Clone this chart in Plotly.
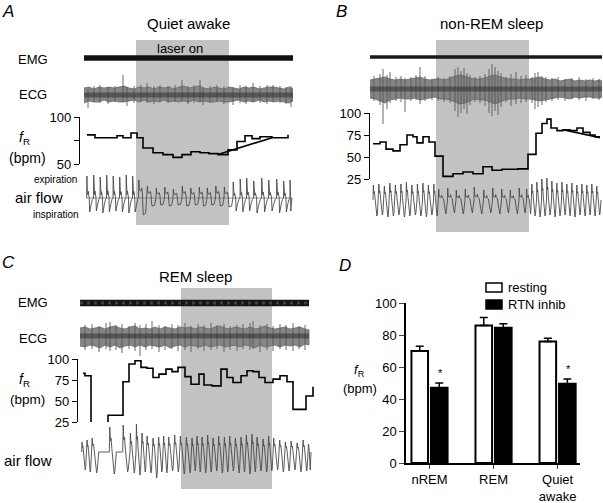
import plotly.graph_objects as go

W, H = 603, 503
FONT = "Liberation Sans, Arial, sans-serif"

# ---------------- data: panel A (quiet awake) ----------------
A_t_end = 209
A_laser = [52, 145]
A_fr_t = [3, 11, 33, 39, 47, 53, 59, 69, 79, 89, 98, 107, 116, 125, 134, 144, 153, 161, 168, 176, 188, 204]
A_fr_v = [81, 78, 80, 78, 83, 78, 67, 62, 60, 57, 60, 63, 62, 61, 60, 65, 74, 80, 77, 79, 78, 81]
A_fr_end = 204
A_fit_t = [134, 188]
A_fit_v = [60, 78]
A_ecg_t = [0, 5, 10, 15, 20, 25, 30, 35, 40, 45, 50, 55, 60, 65, 70, 75, 80, 85, 90, 95, 100,
           105, 110, 115, 120, 125, 130, 135, 140, 145, 150, 155, 160, 165, 170, 175, 180, 185,
           190, 195, 200, 205, 209]
A_ecg_up = [7, 8, 6, 8, 7, 8, 7, 8, 9, 7, 6, 8, 7, 8, 6, 8, 7, 8, 6, 8, 9, 7, 8, 9, 7, 6, 8, 7,
            6, 8, 7, 6, 8, 7, 8, 6, 7, 8, 8, 7, 6, 8, 6]
A_ecg_dn = [8, 6, 7, 7, 5, 7, 6, 7, 7, 6, 5, 7, 5, 7, 6, 7, 5, 7, 6, 7, 6, 7, 5, 7, 6, 7, 7, 6,
            7, 7, 6, 5, 7, 6, 7, 5, 7, 6, 7, 6, 7, 8, 6]
A_spk_t = [4, 10, 16, 24, 31, 39, 43, 50, 57, 63, 70, 76, 84, 91, 98, 104, 110, 116, 119, 126,
           133, 140, 149, 156, 162, 169, 176, 183, 189, 196, 202, 207]
A_spk_up = [6, 9, 10, 8, 9, 20, 8, 9, 10, 12, 9, 10, 9, 10, 15, 9, 10, 15, 7, 9, 10, 9, 8, 10,
            9, 12, 9, 10, 10, 9, 8, 9]
A_spk_dn = [13, 7, 8, 9, 7, 6, 11, 8, 7, 8, 9, 7, 8, 7, 6, 9, 8, 7, 10, 8, 7, 9, 10, 8, 9, 7,
            8, 9, 7, 8, 9, 12]
A_breath_t = [2.7, 9.5, 16, 22.5, 29, 35.5, 42, 48.5,
              54.5, 63, 72, 80.5, 89, 98, 106.5, 115, 123, 131.5, 140,
              149, 156, 162.5, 169.5, 177.5, 184.5, 192.5, 199.5, 206]
A_breath_pk = [2.2, 2.3, 2.1, 2.3, 2.2, 2.1, 2.3, 2.2,
               1.8, 1.2, 1.0, 1.1, 0.9, 1.2, 1.0, 1.1, 1.0, 1.2, 1.1,
               1.6, 1.9, 2.0, 1.7, 2.0, 1.8, 1.9, 1.7, 1.8]
A_breath_tr = [1.4, 1.3, 1.5, 1.4, 1.3, 1.4, 1.5, 1.4,
               1.7, 0.8, 0.7, 0.8, 0.7, 0.8, 0.7, 0.8, 0.7, 0.8, 0.9,
               1.3, 1.4, 1.3, 1.5, 1.4, 1.3, 1.5, 1.4, 1.3]
A_breath_end = 208

# ---------------- data: panel B (non-REM sleep) ----------------
B_t_end = 232
B_laser = [66, 159]
B_fr_t = [3, 10, 16, 23, 30, 37, 43, 47, 53, 59, 65, 73, 83, 93, 103, 113, 122, 132, 140, 148,
          158, 166, 172, 177, 181, 187, 193, 200, 207, 213, 220, 225]
B_fr_v = [65, 67, 59, 57, 64, 75, 73, 66, 73, 67, 51, 28, 31, 33, 31, 39, 35, 36, 36, 36.5,
          53, 77, 88, 93, 83, 80, 81, 80, 83, 78, 75, 73]
B_fr_end = 230
B_fit_t = [193, 230]
B_fit_v = [81, 72]
B_ecg_t = [0, 5, 10, 15, 20, 25, 30, 35, 40, 45, 50, 55, 60, 65, 70, 75, 80, 85, 90, 95, 100,
           105, 110, 115, 120, 125, 130, 135, 140, 145, 150, 155, 160, 165, 170, 175, 180, 185,
           190, 195, 200, 205, 210, 215, 220, 225, 230, 232]
B_ecg_up = [9, 10, 11, 12, 10, 9, 10, 9, 10, 11, 12, 10, 9, 10, 10, 9, 11, 13, 14, 13, 11, 10,
            10, 11, 13, 14, 12, 11, 10, 10, 9, 10, 10, 11, 12, 10, 9, 10, 8, 9, 10, 8, 9, 8, 9,
            8, 9, 8]
B_ecg_dn = [9, 10, 12, 14, 11, 10, 9, 10, 10, 9, 11, 10, 9, 8, 10, 10, 11, 13, 15, 14, 12, 10,
            11, 11, 13, 15, 13, 11, 10, 10, 9, 10, 10, 11, 12, 11, 10, 9, 8, 9, 10, 8, 9, 8, 8,
            9, 9, 8]
B_spk_t = [4, 10, 13, 17, 20, 26, 31, 35, 41, 46, 50, 55, 62, 68, 74, 80, 85, 88, 91, 94, 97,
           100, 105, 110, 115, 119, 122, 125, 128, 131, 136, 141, 146, 151, 156, 162, 165, 168,
           172, 176, 182, 188, 195, 202, 209, 216, 223, 229]
B_spk_up = [13, 15, 20, 14, 17, 12, 13, 11, 12, 14, 22, 13, 10, 12, 11, 13, 20, 22, 18, 21, 16,
            14, 12, 13, 15, 20, 25, 22, 18, 16, 12, 15, 17, 13, 14, 12, 16, 17, 13, 12, 11, 12,
            10, 11, 12, 10, 11, 10]
B_spk_dn = [12, 16, 35, 20, 14, 12, 13, 23, 12, 11, 15, 12, 11, 12, 13, 14, 22, 28, 24, 20, 25,
            16, 13, 14, 17, 24, 27, 22, 26, 18, 13, 17, 15, 14, 13, 14, 20, 18, 16, 13, 12, 11,
            12, 10, 11, 12, 10, 11]
B_breath_t = [3, 8.5, 14, 19.5, 25, 30.5, 36, 41.5, 47, 52.5, 58, 63.5,
              68.5, 77.5, 86, 95, 104, 113.5, 122.5, 131.5, 140, 149, 156.5,
              161.5, 166.5, 171.5, 176.5, 181.5, 186.5, 191.5, 196.5, 201.5, 206.5, 211.5,
              216.5, 221.5, 226.5]
B_breath_pk = [1.5, 1.6, 1.4, 1.7, 1.5, 1.6, 1.8, 1.5, 1.6, 1.7, 1.5, 1.6,
               1.1, 1.2, 1.0, 1.1, 1.3, 1.0, 1.2, 1.1, 1.0, 1.2, 1.1,
               1.6, 1.8, 2.1, 2.3, 1.9, 1.7, 1.8, 1.6, 1.7, 1.5, 1.6, 1.5, 1.6, 1.4]
B_breath_tr = [1.6, 1.5, 1.7, 1.6, 1.5, 1.7, 1.6, 1.5, 1.6, 1.7, 1.5, 1.6,
               1.4, 1.3, 1.4, 1.3, 1.4, 1.3, 1.4, 1.3, 1.4, 1.3, 1.4,
               1.6, 1.7, 1.6, 1.5, 1.7, 1.6, 1.5, 1.6, 1.7, 1.5, 1.6, 1.5, 1.6, 1.5]
B_breath_end = 231

# ---------------- data: panel C (REM sleep) ----------------
C_t_end = 236
C_laser = [101, 192]
C_emg_end = 229
C_fr_t = [3, 5, 11, 28, 43, 49, 55, 61, 67, 73, 79, 86, 92, 98, 105, 111, 119, 124, 132, 141,
          147, 153, 161, 167, 173, 179, 185, 193, 200, 207, 213, 226, 233]
C_fr_v = [83, 80, 23, 33, 73, 94, 98, 90, 89, 78, 82, 88, 85, 90, 79, 70, 82, 69, 68, 88,
          78, 72, 80, 86, 85, 78, 72, 76, 80, 73, 40, 56, 67]
C_fr_end = 233
C_ecg_t = [0, 5, 10, 15, 20, 25, 30, 35, 40, 45, 50, 55, 60, 65, 70, 75, 80, 85, 90, 95, 100,
           105, 110, 115, 120, 125, 130, 135, 140, 145, 150, 155, 160, 165, 170, 175, 180, 185,
           190, 195, 200, 205, 210, 215, 220, 225, 229]
C_ecg_up = [8, 9, 7, 8, 9, 7, 9, 10, 8, 7, 9, 10, 7, 8, 7, 9, 7, 9, 8, 7, 9, 8, 9, 7, 9, 8, 7,
            9, 10, 8, 7, 9, 8, 7, 9, 7, 8, 10, 8, 7, 8, 9, 7, 8, 9, 7, 6]
C_ecg_dn = [10, 11, 9, 10, 12, 9, 11, 9, 12, 10, 9, 11, 9, 11, 9, 10, 11, 9, 12, 10, 9, 11, 9,
            10, 11, 9, 11, 10, 9, 11, 10, 9, 11, 9, 10, 12, 9, 11, 10, 9, 11, 9, 10, 9, 11, 8, 9]
C_spk_t = [5, 12, 19, 26, 30, 36, 42, 49, 55, 60, 66, 72, 79, 85, 92, 98, 105, 111, 118, 124,
           131, 137, 144, 150, 157, 163, 170, 173, 180, 187, 193, 200, 206, 213, 219, 225]
C_spk_up = [11, 12, 10, 13, 14, 11, 12, 10, 13, 11, 12, 15, 11, 10, 12, 11, 13, 10, 12, 11, 13,
            11, 12, 10, 11, 12, 13, 15, 11, 12, 10, 12, 11, 13, 10, 11]
C_spk_dn = [14, 13, 16, 13, 15, 14, 17, 13, 15, 20, 14, 13, 16, 14, 13, 15, 14, 16, 13, 15, 14,
            13, 16, 14, 15, 13, 14, 13, 16, 14, 15, 13, 14, 15, 13, 14]
C_breath_t = [1.7, 6.7, 11.7, 29.3, 42.7, 50, 56, 61.7, 66.7, 72.7, 78.3, 83.3, 88.3, 94.3, 100,
              106, 111.7, 116.7, 121.7, 127.3, 132.7, 138.3, 144, 149.3, 155, 160.7, 166, 171.7,
              176.7, 182.7, 188.3, 193.3, 199.3, 205, 210.7, 216.7, 222.7, 228.3]
C_breath_pk = [1.0, 1.2, 1.4, 2.5, 2.7, 1.9, 2.8, 1.9, 1.6, 1.4, 1.5, 1.6, 1.5, 1.7, 1.6, 1.5,
               1.4, 1.6, 1.5, 1.7, 1.4, 1.6, 1.5, 1.6, 1.4, 1.5, 1.7, 1.8, 1.5, 1.3, 1.6, 1.4,
               1.2, 1.0, 1.1, 0.9, 1.2, 0.8]
C_breath_tr = [1.8, 2.0, 2.1, 2.2, 2.0, 2.1, 2.3, 2.0, 2.1, 2.6, 2.0, 2.1, 1.9, 2.0, 2.2, 2.1,
               1.9, 2.0, 2.1, 2.0, 1.9, 2.1, 2.0, 1.9, 2.1, 2.0, 2.2, 2.0, 1.9, 2.0, 1.9, 1.8,
               2.0, 1.9, 1.8, 2.0, 1.9, 1.8]
C_breath_end = 231

# breath shape templates (phase, normalised value)
TPL_AWAKE = [(0, 0), (0.03, 1.0), (0.09, 0.25), (0.16, 0.15), (0.24, 0.3), (0.3, 0.12),
             (0.38, 0.0), (0.44, -1.0), (0.52, -0.75), (0.68, -0.4), (0.85, -0.1), (1.0, 0)]
TPL_AWAKE_LASER = [(0, 0), (0.04, 1.0), (0.1, 0.45), (0.3, 0.4), (0.38, 0.55), (0.45, 0.3),
                   (0.5, -0.6), (0.56, -1.0), (0.84, -0.9), (0.92, -0.3), (1.0, 0)]
TPL_SLEEP = [(0, 0), (0.07, 1.0), (0.16, 0.45), (0.26, 0.55), (0.36, 0.15), (0.52, -0.5),
             (0.7, -1.0), (0.8, -0.85), (0.9, -0.35), (1.0, 0)]
TPL_NREM_LASER = [(0, 0), (0.03, 1.0), (0.08, 0.3), (0.3, 0.25), (0.36, 0.45), (0.42, 0.2),
                  (0.55, 0.1), (0.7, -0.6), (0.82, -1.0), (0.9, -0.6), (1.0, 0)]

# ---------------- data: panel D (group means) ----------------
D_cats = ["nREM", "REM", "Quiet<br>awake"]
D_rest = [70, 86, 76]
D_rest_sem = [3, 5, 2]
D_inhib = [47, 84.5, 49.5]
D_inhib_sem = [3, 2.5, 3]
D_sig = [True, False, True]
D_legend = ["resting", "RTN inhib"]


def breaths(onsets, pk, tr, tpl_rest, tpl_laser, laser, t_end, maxdur):
    xs, ys = [], []
    for i, t0 in enumerate(onsets):
        t1 = onsets[i + 1] if i + 1 < len(onsets) else t_end
        per = t1 - t0
        tpl = tpl_laser if laser[0] <= t0 < laser[1] else tpl_rest
        dur = min(per, maxdur)
        for ph, v in tpl:
            xs.append(t0 + ph * dur)
            ys.append(v * pk[i] if v > 0 else v * tr[i])
        if dur < per:
            xs.append(t1)
            ys.append(0)
    return xs, ys


def fy(py):
    return 1 - py / H


def fx(px):
    return px / W


def ydom(top, bot):
    return [fy(bot), fy(top)]


fig = go.Figure()
layout = dict(width=W, height=H, margin=dict(l=0, r=0, t=0, b=0, autoexpand=False),
              paper_bgcolor="white", plot_bgcolor="rgba(0,0,0,0)",
              font=dict(family=FONT, size=13, color="black"),
              showlegend=False, shapes=[], annotations=[])


def hidden_y(name, xname, top, bot, rng):
    layout[name] = dict(domain=ydom(top, bot), range=rng, visible=False, anchor=xname,
                        fixedrange=True, automargin=False)


def fr_axis(name, top, bot, rng, pos, tv, tt):
    layout[name] = dict(domain=ydom(top, bot), range=rng, anchor="free", position=fx(pos),
                        showline=True, linecolor="black", linewidth=1.3,
                        ticks="outside", ticklen=5, tickwidth=1.3, tickcolor="black",
                        tickvals=tv, ticktext=tt, showgrid=False, zeroline=False,
                        tickfont=dict(size=13), fixedrange=True, automargin=False)


def xaxis(name, left, right, rng, anchor):
    layout[name] = dict(domain=[fx(left), fx(right)], range=rng, visible=False,
                        anchor=anchor, fixedrange=True, automargin=False)


def panel(xn, ys_emg, ys_ecg, ys_fr, ys_air, emg_end, emg_w, emg_col,
          ecg_t, ecg_up, ecg_dn, spk, fr_t, fr_v, fr_end, fit, br, laser, rect_top, rect_bot,
          baseline, emg_dots):
    # laser window
    layout["shapes"].append(dict(type="rect", xref=xn, yref="paper", x0=laser[0], x1=laser[1],
                                 y0=fy(rect_bot), y1=fy(rect_top), fillcolor="#c2c2c2",
                                 line_width=0, layer="below"))
    # EMG
    fig.add_trace(go.Scatter(x=[0, emg_end], y=[0, 0], xaxis=xn, yaxis=ys_emg, mode="lines",
                             line=dict(color=emg_col, width=emg_w), hoverinfo="skip"))
    if emg_dots:
        fig.add_trace(go.Scatter(x=[0, emg_end], y=[0, 0], xaxis=xn, yaxis=ys_emg,
                                 mode="lines",
                                 line=dict(color="#404040", width=3, dash="3px,4px"),
                                 hoverinfo="skip"))
    # ECG: envelope band + individual deflections
    px_ = list(ecg_t) + list(reversed(ecg_t))
    py_ = list(ecg_up) + [-v for v in reversed(ecg_dn)]
    fig.add_trace(go.Scatter(x=px_, y=py_, xaxis=xn, yaxis=ys_ecg, mode="lines", fill="toself",
                             fillcolor="#858585", line=dict(color="#6a6a6a", width=0.8),
                             hoverinfo="skip"))
    sx, sy = [], []
    for t, u, d in zip(*spk):
        sx += [t, t, None]
        sy += [-d, u, None]
    fig.add_trace(go.Scatter(x=sx, y=sy, xaxis=xn, yaxis=ys_ecg, mode="lines",
                             line=dict(color="#5a5a5a", width=0.9), hoverinfo="skip"))
    fig.add_trace(go.Scatter(x=[ecg_t[0], ecg_t[-1]], y=[0, 0], xaxis=xn, yaxis=ys_ecg,
                             mode="lines", line=dict(color="rgba(40,40,40,0.5)", width=5),
                             hoverinfo="skip"))
    # fR step trace
    fig.add_trace(go.Scatter(x=list(fr_t) + [fr_end], y=list(fr_v) + [fr_v[-1]], xaxis=xn,
                             yaxis=ys_fr, mode="lines",
                             line=dict(color="black", width=1.6, shape="hv"),
                             hoverinfo="skip"))
    if fit:
        fig.add_trace(go.Scatter(x=fit[0], y=fit[1], xaxis=xn, yaxis=ys_fr, mode="lines",
                                 line=dict(color="black", width=1.6), hoverinfo="skip"))
    # air flow
    if baseline:
        fig.add_trace(go.Scatter(x=[br[0][0], br[0][-1]], y=[0, 0], xaxis=xn, yaxis=ys_air,
                                 mode="lines", line=dict(color="#7a7a7a", width=0.8),
                                 hoverinfo="skip"))
    fig.add_trace(go.Scatter(x=br[0], y=br[1], xaxis=xn, yaxis=ys_air, mode="lines",
                             line=dict(color="#4a4a4a", width=0.9), hoverinfo="skip"))


# ---- Panel A axes ----
xaxis("xaxis", 84, 293, [0, A_t_end], "y")
hidden_y("yaxis", "x", 52, 64, [-6, 6])
hidden_y("yaxis2", "x", 70, 118, [-23, 25])
fr_axis("yaxis3", 117, 164, [50, 100], 79, [50, 75, 100], ["50", " ", "100"])
hidden_y("yaxis4", "x", 170, 226, [-2.8, 2.8])
brA = breaths(A_breath_t, A_breath_pk, A_breath_tr, TPL_AWAKE, TPL_AWAKE_LASER, A_laser,
              A_breath_end, 9.5)
panel("x", "y", "y2", "y3", "y4", A_t_end, 5.5, "#111", A_ecg_t, A_ecg_up, A_ecg_dn,
      (A_spk_t, A_spk_up, A_spk_dn), A_fr_t, A_fr_v, A_fr_end, (A_fit_t, A_fit_v), brA,
      A_laser, 40, 225, True, False)

# ---- Panel B axes ----
xaxis("xaxis2", 370, 602, [0, B_t_end], "y5")
hidden_y("yaxis5", "x2", 51, 63, [-6, 6])
hidden_y("yaxis6", "x2", 50, 126, [-37, 39])
fr_axis("yaxis7", 113, 179, [25, 100], 369, [25, 50, 75, 100], ["25", "50", "75", "100"])
hidden_y("yaxis8", "x2", 178, 224, [-2.4, 2.2])
brB = breaths(B_breath_t, B_breath_pk, B_breath_tr, TPL_SLEEP, TPL_NREM_LASER, B_laser,
              B_breath_end, 10)
panel("x2", "y5", "y6", "y7", "y8", B_t_end, 3.5, "#1a1a1a", B_ecg_t, B_ecg_up, B_ecg_dn,
      (B_spk_t, B_spk_up, B_spk_dn), B_fr_t, B_fr_v, B_fr_end, (B_fit_t, B_fit_v), brB,
      B_laser, 40, 232, False, False)

# ---- Panel C axes ----
xaxis("xaxis3", 80, 316, [0, C_t_end], "y9")
hidden_y("yaxis9", "x3", 296, 310, [-7, 7])
hidden_y("yaxis10", "x3", 312, 358, [-22, 24])
fr_axis("yaxis11", 359, 422, [25, 100], 77, [25, 50, 75, 100], ["25", "50", "75", "100"])
hidden_y("yaxis12", "x3", 420, 485, [-3.3, 3.2])
brC = breaths(C_breath_t, C_breath_pk, C_breath_tr, TPL_SLEEP, TPL_SLEEP, C_laser,
              C_breath_end, 7)
panel("x3", "y9", "y10", "y11", "y12", C_emg_end, 6.5, "#151515", C_ecg_t, C_ecg_up, C_ecg_dn,
      (C_spk_t, C_spk_up, C_spk_dn), C_fr_t, C_fr_v, C_fr_end, None, brC, C_laser, 288, 489,
      False, True)

# ---- Panel D ----
layout["xaxis4"] = dict(domain=[fx(406), fx(580)], range=[-0.367, 2.35], anchor="y13",
                        type="category", showline=True, linecolor="black", linewidth=1.5,
                        ticks="outside", ticklen=4, tickwidth=1.3, tickfont=dict(size=13),
                        showgrid=False, fixedrange=True, automargin=False)
layout["yaxis13"] = dict(domain=ydom(303, 463), range=[0, 100], anchor="x4", showline=True,
                         linecolor="black", linewidth=1.5, ticks="outside", ticklen=5,
                         tickwidth=1.3, tickvals=[0, 20, 40, 60, 80, 100],
                         tickfont=dict(size=13), showgrid=False, zeroline=False,
                         fixedrange=True, automargin=False)
fig.add_trace(go.Bar(x=D_cats, y=D_rest, name=D_legend[0], xaxis="x4", yaxis="y13",
                     marker=dict(color="white", line=dict(color="black", width=2)),
                     error_y=dict(type="data", symmetric=False, array=D_rest_sem,
                                  arrayminus=[0, 0, 0], color="black", thickness=1.5,
                                  width=4)))
fig.add_trace(go.Bar(x=D_cats, y=D_inhib, name=D_legend[1], xaxis="x4", yaxis="y13",
                     marker=dict(color="black", line=dict(color="black", width=2)),
                     error_y=dict(type="data", symmetric=False, array=D_inhib_sem,
                                  arrayminus=[0, 0, 0], color="black", thickness=1.5,
                                  width=4)))
layout["barmode"] = "group"
layout["bargap"] = 0.39
layout["bargroupgap"] = 0.15
for i, c in enumerate(D_cats):
    if D_sig[i]:
        layout["annotations"].append(dict(x=c, y=D_inhib[i] + D_inhib_sem[i], xref="x4",
                                          yref="y13", text="*", showarrow=False,
                                          xshift=11, yshift=10, font=dict(size=11)))
# legend key (swatches + labels)
layout["shapes"].append(dict(type="rect", xref="paper", yref="paper", x0=fx(486), x1=fx(502),
                             y0=fy(292), y1=fy(283), fillcolor="white",
                             line=dict(color="black", width=1.5)))
layout["shapes"].append(dict(type="rect", xref="paper", yref="paper", x0=fx(486), x1=fx(502),
                             y0=fy(309), y1=fy(300), fillcolor="black",
                             line=dict(color="black", width=1.5)))


def ann(text, x, y, size=13, xanchor="center"):
    layout["annotations"].append(dict(text=text, x=fx(x), y=fy(y), xref="paper", yref="paper",
                                      showarrow=False, xanchor=xanchor, yanchor="middle",
                                      font=dict(size=size, family=FONT, color="black")))


ann(D_legend[0], 506, 287, 13, "left")
ann(D_legend[1], 506, 304, 13, "left")
# panel letters and titles
ann("<i>A</i>", 8, 12, 17)
ann("<i>B</i>", 341, 12, 17)
ann("<i>C</i>", 8, 262, 17)
ann("<i>D</i>", 345, 265, 17)
ann("Quiet awake", 188, 23, 15)
ann("non-REM sleep", 492, 23, 15)
ann("REM sleep", 195, 276, 15)
ann("laser on", 180, 48, 13)
# row labels A
ann("EMG", 33, 59, 13)
ann("ECG", 33, 95, 13)
ann("<i>f</i><sub>R</sub>", 24, 138, 14)
ann("(bpm)", 28, 158, 14)
ann("expiration", 56, 179, 10)
ann("air flow", 39, 198, 15)
ann("inspiration", 56, 214, 10)
# row labels C
ann("EMG", 33, 302, 13)
ann("ECG", 33, 338, 13)
ann("<i>f</i><sub>R</sub>", 24, 380, 14)
ann("(bpm)", 28, 399, 13.5)
ann("air flow", 28, 460, 15)
# panel D axis title
ann("<i>f</i><sub>R</sub>", 360, 370, 13)
ann("(bpm)", 360, 388, 13)

fig.update_layout(**layout)
fig.write_html("out.html", config={"displayModeBar": False},
               post_script="document.body.style.margin='0px';document.body.style.overflow='hidden';")
